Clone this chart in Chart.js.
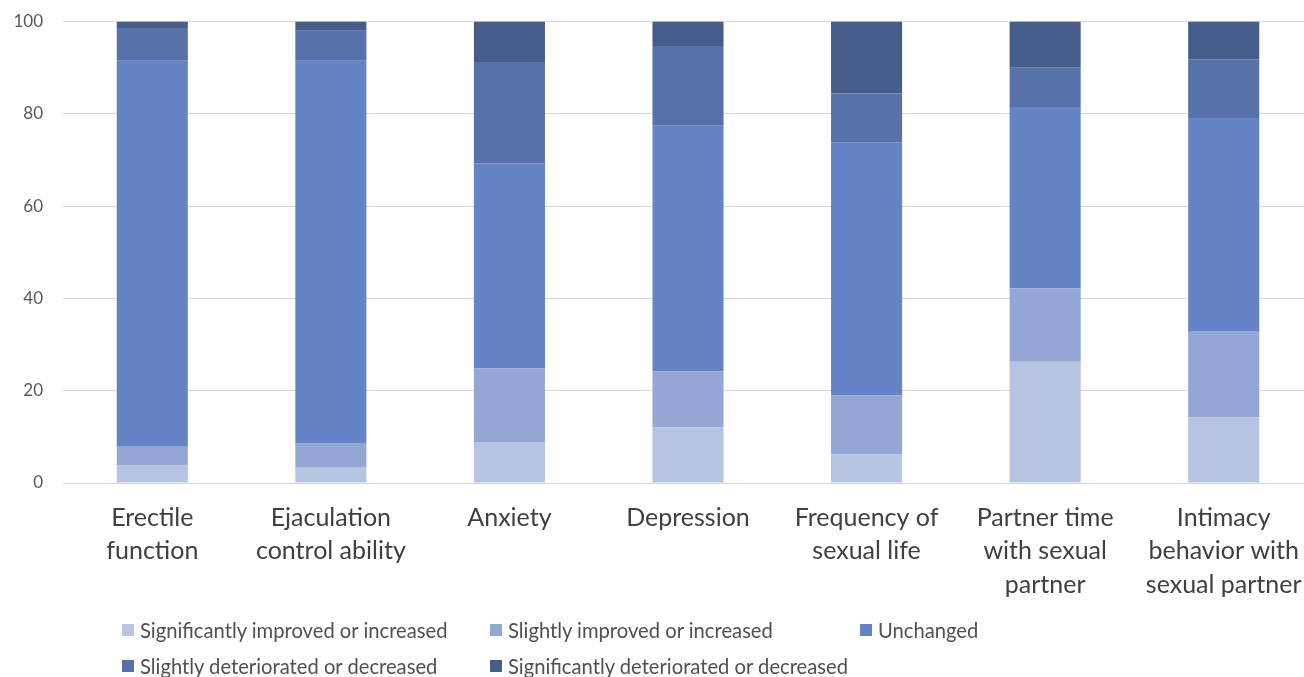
<!DOCTYPE html>
<html>
<head>
<meta charset="utf-8">
<script src="https://cdn.jsdelivr.net/npm/chart.js@4"></script>
<style>
  html, body { margin: 0; padding: 0; background: #fff; overflow: hidden; }
  #wrap { position: relative; width: 1313px; height: 677px; }
  #legend { position: absolute; left: 0; top: 0; width: 1313px; height: 677px; pointer-events: none;
            font-family: Lato, "Liberation Sans", sans-serif; font-size: 20.2px; color: #505050; }
  .item { position: absolute; display: flex; align-items: center; white-space: nowrap; }
  .box { width: 12px; height: 12px; margin-right: 6px; }
</style>
</head>
<body>
<div id="wrap">
  <canvas id="c" width="1313" height="677"></canvas>
  <div id="legend"></div>
</div>
<script>
const categories = [
  ["Erectile", "function"],
  ["Ejaculation", "control ability"],
  ["Anxiety"],
  ["Depression"],
  ["Frequency of", "sexual life"],
  ["Partner time", "with sexual", "partner"],
  ["Intimacy", "behavior with", "sexual partner"]
];
const seriesNames = [
  "Significantly improved or increased",
  "Slightly improved or increased",
  "Unchanged",
  "Slightly deteriorated or decreased",
  "Significantly deteriorated or decreased"
];
const significantlyImproved = [3.9, 3.3, 8.9, 12.1, 6.2, 26.3, 14.2];
const slightlyImproved      = [4.1, 5.2, 15.9, 12.1, 12.8, 15.9, 18.6];
const unchanged             = [83.5, 83.0, 44.5, 53.2, 54.8, 39.3, 46.3];
const slightlyDeteriorated  = [7.1, 6.5, 21.9, 17.3, 10.6, 8.5, 12.7];
const significantlyDeteriorated = [1.4, 2.0, 8.8, 5.3, 15.6, 10.0, 8.2];
const yTicks = [0, 20, 40, 60, 80, 100];

const colors = ["#b7c4e2", "#94a7d4", "#6584c6", "#5672a9", "#475d89"];
const values = [significantlyImproved, slightlyImproved, unchanged, slightlyDeteriorated, significantlyDeteriorated];

const datasets = seriesNames.map((name, i) => ({
  label: name,
  data: values[i],
  backgroundColor: colors[i],
  borderWidth: 0,
  categoryPercentage: 1.0,
  barPercentage: 0.398
}));

const chart = new Chart(document.getElementById("c"), {
  type: "bar",
  data: { labels: categories, datasets },
  options: {
    responsive: false,
    animation: false,
    layout: { padding: { top: 21.5, right: 0, bottom: 0, left: 0 } },
    plugins: { legend: { display: false }, tooltip: { enabled: false } },
    scales: {
      x: {
        stacked: true,
        grid: { display: false, drawTicks: false },
        border: { display: false },
        ticks: {
          padding: 18,
          color: "#404040",
          font: { family: "Lato, 'Liberation Sans', sans-serif", size: 25, lineHeight: 1.34 },
          maxRotation: 0, autoSkip: false
        },
        afterFit: s => { s.height = 677 - 483; s.paddingLeft = 0; s.paddingRight = 0; }
      },
      y: {
        stacked: true,
        min: 0, max: 100,
        afterBuildTicks: s => { s.ticks = yTicks.map(v => ({ value: v })); },
        grid: { color: "#d9d9d9", lineWidth: 1, drawTicks: false },
        border: { display: false },
        ticks: {
          padding: 20,
          color: "#595959",
          font: { family: "Lato, 'Liberation Sans', sans-serif", size: 17 }
        },
        afterFit: s => { s.width = 63; s.paddingTop = 0; s.paddingBottom = 0; }
      }
    }
  }
});

// Legend laid out as a two-row grid under the plot
const legend = document.getElementById("legend");
const colX = [122, 490, 860];
const rowY = [630, 666];
chart.data.datasets.forEach((ds, i) => {
  const el = document.createElement("div");
  el.className = "item";
  el.style.left = colX[i % 3] + "px";
  el.style.top = (rowY[Math.floor(i / 3)] - 12) + "px";
  el.style.height = "24px";
  const box = document.createElement("span");
  box.className = "box";
  box.style.background = ds.backgroundColor;
  const txt = document.createElement("span");
  txt.textContent = ds.label;
  el.appendChild(box);
  el.appendChild(txt);
  legend.appendChild(el);
});
</script>
</body>
</html>
